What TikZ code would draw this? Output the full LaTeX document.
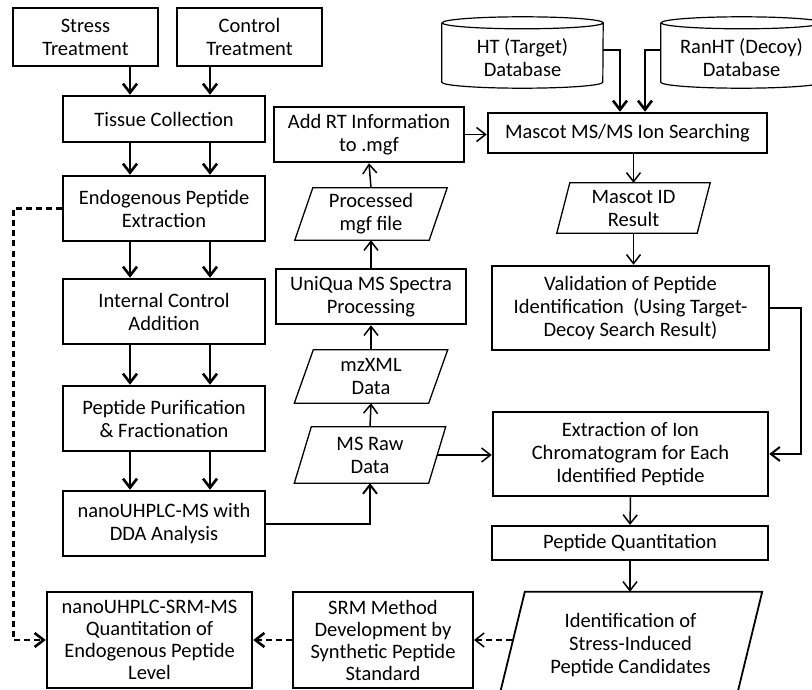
\documentclass[tikz,border=0pt]{standalone}
\usepackage{fontspec}
\setmainfont{Carlito}
\usetikzlibrary{arrows.meta}
\newcommand\drawpara[3][1.3pt]{\draw[line width=#1] ([xshift=#3pt]#2.north west) -- ([xshift=#3pt]#2.north east) -- ([xshift=-#3pt]#2.south east) -- ([xshift=-#3pt]#2.south west) -- cycle;}
\newcommand\drawcyl[1]{\draw[line width=1.2pt] ([yshift=5pt]#1.north west) -- ([yshift=6pt]#1.south west) arc[start angle=180,end angle=360,x radius=80.5pt,y radius=6pt] -- ([yshift=5pt]#1.north east) arc[start angle=0,end angle=360,x radius=80.5pt,y radius=6pt];}
\begin{document}
\begin{tikzpicture}[x=1pt,y=-1pt,
  font=\fontsize{20.5}{23}\selectfont,
  box/.style={draw,line width=2.5pt,align=center,inner sep=0pt},
  para/.style={align=center,inner sep=0pt},
  cyl/.style={align=center,inner sep=0pt},
  sz/.style 2 args={minimum width=#1pt,minimum height=#2pt},
  tip/.style={-{Straight Barb[length=9pt,width=14pt]}},
  thk/.style={tip,line width=2.6pt},
  thn/.style={tip,line width=1.5pt},
  med/.style={tip,line width=2pt}]
\useasboundingbox (0,0) rectangle (812,690);
\clip (0,0) rectangle (812,690);
% left column
\node[box,sz={145}{58}] (stress) at (85.5,37) {Stress\\Treatment};
\node[box,sz={145}{58}] (control) at (249.5,37) {Control\\Treatment};
\node[box,sz={202}{46}] (tissue) at (164,119) {Tissue Collection};
\node[box,sz={202}{65}] (extract) at (164,208.5) {Endogenous Peptide\\Extraction};
\node[box,sz={202}{65}] (internal) at (164,311.5) {Internal Control\\Addition};
\node[box,sz={202}{65}] (purif) at (164,418.5) {Peptide Purification\\\& Fractionation};
\node[box,sz={202}{65}] (dda) at (164,523.5) {nanoUHPLC-MS with\\DDA Analysis};
\node[box,sz={205}{96},font=\fontsize{20.5}{22}\selectfont] (srmms) at (149.5,640) {nanoUHPLC-SRM-MS\\Quantitation of\\Endogenous Peptide\\Level};
\node[box,line width=2pt,sz={180}{96},font=\fontsize{20.5}{22}\selectfont] (srm) at (383,640) {SRM Method\\Development by\\Synthetic Peptide\\Standard};
% middle column
\node[box,sz={190}{55}] (addrt) at (369,134.5) {Add RT Information\\to .mgf};
\node[para,sz={134}{52}] (procmgf) at (371,214) {Processed\\mgf file};
\node[box,sz={190}{55}] (uniqua) at (371,296.5) {UniQua MS Spectra\\Processing};
\node[para,sz={134}{53}] (mzxml) at (371,376.5) {mzXML\\Data};
\node[para,sz={134}{56}] (msraw) at (370,455) {MS Raw\\Data};
\drawpara{procmgf}{9}
\drawpara{mzxml}{9.5}
\drawpara{msraw}{8.5}
% right column
\node[cyl,sz={161}{60}] (ht) at (522.5,58) {HT (Target)\\Database};
\node[cyl,sz={161}{60}] (ranht) at (741.5,58) {RanHT (Decoy)\\Database};
\drawcyl{ht}
\drawcyl{ranht}
\node[box,sz={279}{40}] (mascot) at (627.5,133) {Mascot MS/MS Ion Searching};
\node[para,sz={140}{50}] (mascotid) at (633.5,208) {Mascot ID\\Result};
\drawpara{mascotid}{6.5}
\node[box,sz={277}{84}] (valid) at (630.5,308) {Validation of Peptide\\Identification\ \ (Using Target-\\Decoy Search Result)};
\node[box,sz={275}{84}] (extr) at (630.5,454) {Extraction of Ion\\Chromatogram for Each\\Identified Peptide};
\node[box,line width=2pt,sz={276}{34}] (pquant) at (630,543) {Peptide Quantitation};
\node[para,sz={237}{106}] (ident) at (630.5,645) {Identification of\\Stress-Induced\\Peptide Candidates};
\drawpara[1.8pt]{ident}{13}
% left column arrows
\draw[thk] ([xshift=44.5pt]stress.south) -- ([xshift=-34pt]tissue.north);
\draw[thk] ([xshift=-39.5pt]control.south) -- ([xshift=46pt]tissue.north);
\draw[thk] ([xshift=-34pt]tissue.south) -- ([xshift=-34pt]extract.north);
\draw[thk] ([xshift=46pt]tissue.south) -- ([xshift=46pt]extract.north);
\draw[thk] ([xshift=-34pt]extract.south) -- ([xshift=-34pt]internal.north);
\draw[thk] ([xshift=46pt]extract.south) -- ([xshift=46pt]internal.north);
\draw[thk] ([xshift=-34pt]internal.south) -- ([xshift=-34pt]purif.north);
\draw[thk] ([xshift=46pt]internal.south) -- ([xshift=46pt]purif.north);
\draw[thk] ([xshift=-34pt]purif.south) -- ([xshift=-34pt]dda.north);
\draw[thk] ([xshift=46pt]purif.south) -- ([xshift=46pt]dda.north);
% dashed
\draw[thk,dash pattern=on 6pt off 4pt] (extract.west) -- ++(-48,0) |- (srmms.west);
\draw[thk,dash pattern=on 6pt off 4pt] (srm.west) -- (srmms.east);
\draw[thn,dash pattern=on 6pt off 4pt] (srm.east -| ident.west) -- (srm.east);
% middle arrows
\draw[med] (dda.east) -| (msraw.south);
\draw[thn] (msraw.north) -- (mzxml.south);
\draw[thn] (mzxml.north) -- (uniqua.south);
\draw[thn] (uniqua.north) -- (procmgf.south);
\draw[thn] (procmgf.north) -- (addrt.south);
\draw[thn] (addrt.east) -- (addrt.east -| mascot.west);
\draw[thn] (msraw.east) -- (msraw.east -| extr.west);
% right arrows
\draw[thk] ([yshift=8pt]ht.east) -| ([xshift=-7.5pt]mascot.north);
\draw[thk] ([yshift=8pt]ranht.west) -| ([xshift=17.5pt]mascot.north);
\draw[thn] (mascot.south -| mascotid.north) -- (mascotid.north);
\draw[thn] (mascotid.south) -- (mascotid.south |- valid.north);
\draw[med] (valid.east) -- ++(31,0) |- (extr.east);
\draw[thn] (extr.south) -- (pquant.north);
\draw[thn] (pquant.south) -- (pquant.south |- ident.north);
\end{tikzpicture}
\end{document}
